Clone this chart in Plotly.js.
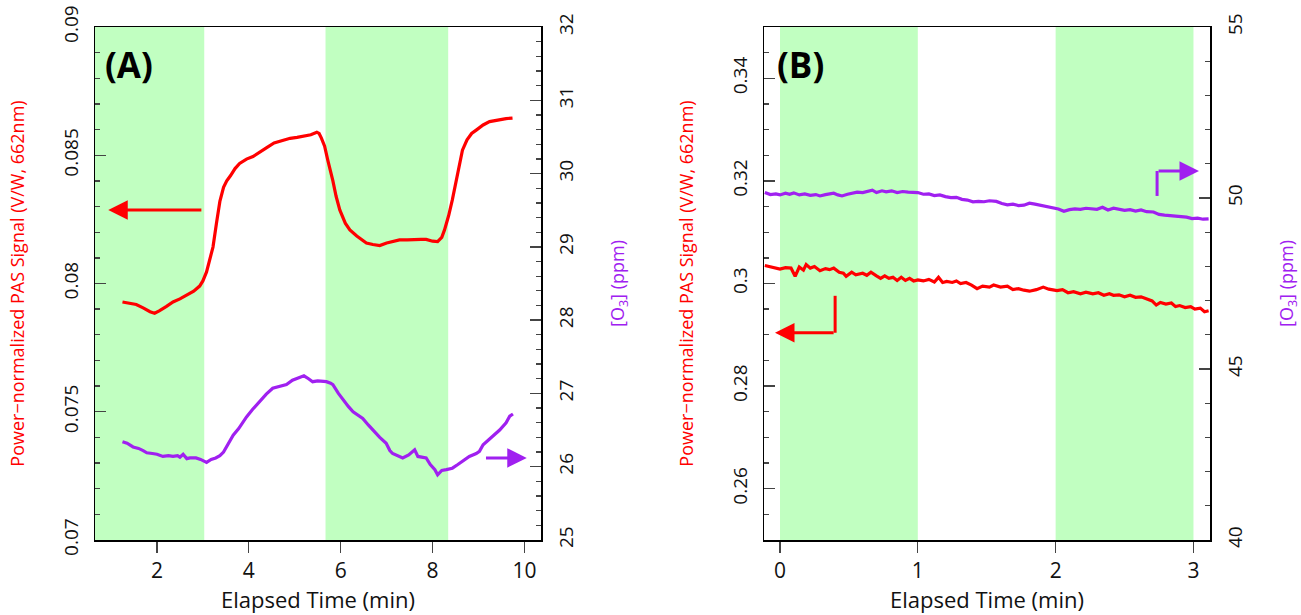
<!DOCTYPE html>
<html>
<head>
<meta charset="utf-8">
<script src="https://cdn.plot.ly/plotly-3.0.1.min.js"></script>
<style>html,body{margin:0;padding:0;background:#fff;}#chart{width:1301px;height:615px;}</style>
</head>
<body>
<div id="chart"></div>
<script>
// ---------- Panel A data ----------
const timeA_pas = [1.25,1.40,1.55,1.70,1.85,1.95,2.05,2.20,2.35,2.50,2.65,2.80,2.93,3.00,3.08,3.15,3.22,3.30,3.37,3.45,3.52,3.60,3.70,3.80,3.95,4.09,4.25,4.39,4.55,4.74,4.90,5.05,5.20,5.35,5.48,5.53,5.58,5.65,5.72,5.78,5.83,5.90,5.98,6.10,6.20,6.35,6.56,6.70,6.85,7.00,7.15,7.28,7.45,7.60,7.75,7.86,8.00,8.11,8.20,8.26,8.35,8.43,8.52,8.60,8.65,8.75,8.85,8.95,9.10,9.24,9.35,9.46,9.60,9.74];
const pasA = [0.07928,0.07922,0.07918,0.07905,0.07890,0.07884,0.07893,0.07910,0.07928,0.07940,0.07955,0.07970,0.07990,0.08010,0.08045,0.08090,0.08142,0.08240,0.08320,0.08375,0.08400,0.08420,0.08448,0.08468,0.08485,0.08495,0.08515,0.08530,0.08548,0.08558,0.08566,0.08570,0.08575,0.08580,0.08590,0.08585,0.08567,0.08535,0.08480,0.08440,0.08400,0.08340,0.08287,0.08235,0.08209,0.08185,0.08158,0.08152,0.08148,0.08158,0.08165,0.08170,0.08170,0.08172,0.08172,0.08172,0.08165,0.08163,0.08180,0.08209,0.08265,0.08326,0.08410,0.08480,0.08520,0.08560,0.08585,0.08598,0.08618,0.08631,0.08635,0.08637,0.08643,0.08645];
const timeA_o3 = [1.25,1.35,1.48,1.60,1.70,1.78,1.90,2.00,2.13,2.25,2.35,2.45,2.50,2.57,2.65,2.72,2.85,2.95,3.08,3.18,3.28,3.37,3.45,3.55,3.66,3.78,3.88,3.95,4.08,4.24,4.38,4.52,4.65,4.82,4.95,5.08,5.20,5.30,5.39,5.50,5.60,5.69,5.78,5.83,5.95,6.05,6.17,6.27,6.38,6.48,6.60,6.70,6.85,6.99,7.07,7.13,7.22,7.35,7.48,7.61,7.68,7.78,7.86,7.95,8.05,8.11,8.20,8.30,8.43,8.55,8.68,8.80,8.95,9.02,9.10,9.17,9.30,9.46,9.60,9.68,9.75];
const o3A = [26.34,26.32,26.27,26.25,26.22,26.19,26.18,26.17,26.14,26.15,26.14,26.15,26.13,26.17,26.11,26.12,26.12,26.10,26.06,26.10,26.12,26.15,26.20,26.32,26.43,26.52,26.62,26.68,26.78,26.89,26.99,27.07,27.09,27.12,27.18,27.21,27.24,27.20,27.16,27.17,27.17,27.16,27.14,27.12,27.00,26.91,26.82,26.75,26.70,26.66,26.57,26.50,26.40,26.32,26.22,26.18,26.16,26.12,26.16,26.23,26.14,26.13,26.12,26.03,25.96,25.89,25.95,25.96,25.98,26.03,26.09,26.14,26.18,26.21,26.30,26.34,26.42,26.50,26.60,26.69,26.72];
const shadeA = [[0.652, 3.03], [5.67, 8.34]];

// ---------- Panel B data ----------
const timeB_pas = [-0.11,-0.07,-0.03,0.00,0.04,0.08,0.11,0.14,0.17,0.19,0.22,0.25,0.29,0.33,0.36,0.39,0.43,0.46,0.48,0.52,0.55,0.60,0.63,0.66,0.70,0.73,0.76,0.79,0.82,0.85,0.88,0.91,0.94,0.97,1.00,1.04,1.08,1.12,1.15,1.18,1.21,1.25,1.28,1.31,1.35,1.39,1.43,1.47,1.52,1.55,1.60,1.65,1.69,1.73,1.77,1.81,1.86,1.91,1.95,2.01,2.05,2.09,2.13,2.18,2.22,2.27,2.31,2.35,2.39,2.42,2.46,2.50,2.54,2.58,2.62,2.66,2.70,2.73,2.76,2.80,2.84,2.87,2.90,2.94,2.98,3.01,3.05,3.08,3.11];
const pasB = [0.3035,0.3032,0.3030,0.3028,0.3031,0.3030,0.3014,0.3032,0.3026,0.3037,0.3030,0.3033,0.3025,0.3029,0.3027,0.3030,0.3022,0.3020,0.3014,0.3022,0.3017,0.3020,0.3016,0.3022,0.3015,0.3010,0.3015,0.3010,0.3012,0.3006,0.3012,0.3006,0.3010,0.3005,0.3007,0.3005,0.3008,0.3003,0.3012,0.3002,0.3004,0.3002,0.3005,0.3000,0.3002,0.2997,0.2990,0.2995,0.2993,0.2997,0.2993,0.2995,0.2988,0.2990,0.2987,0.2985,0.2988,0.2993,0.2989,0.2986,0.2988,0.2982,0.2984,0.2980,0.2983,0.2980,0.2982,0.2977,0.2980,0.2977,0.2978,0.2974,0.2977,0.2973,0.2974,0.2970,0.2966,0.2958,0.2963,0.2960,0.2962,0.2955,0.2957,0.2953,0.2955,0.2950,0.2952,0.2945,0.2947];
const timeB_o3 = [-0.11,-0.07,-0.03,0.00,0.04,0.07,0.10,0.14,0.18,0.22,0.26,0.29,0.33,0.36,0.39,0.42,0.45,0.49,0.53,0.56,0.60,0.63,0.67,0.70,0.74,0.77,0.81,0.85,0.89,0.93,0.97,1.00,1.04,1.08,1.12,1.16,1.20,1.24,1.28,1.32,1.36,1.40,1.44,1.48,1.52,1.57,1.61,1.65,1.69,1.73,1.77,1.81,1.85,1.90,1.94,1.98,2.02,2.06,2.10,2.14,2.18,2.22,2.26,2.30,2.34,2.38,2.42,2.46,2.50,2.54,2.58,2.62,2.66,2.71,2.75,2.79,2.83,2.87,2.91,2.95,2.99,3.03,3.07,3.11];
const o3B = [50.16,50.10,50.12,50.09,50.14,50.11,50.15,50.09,50.12,50.08,50.10,50.06,50.10,50.12,50.14,50.09,50.06,50.11,50.14,50.17,50.16,50.19,50.23,50.16,50.21,50.18,50.21,50.16,50.19,50.17,50.17,50.16,50.11,50.12,50.07,50.09,50.04,50.01,50.02,49.96,49.94,49.89,49.90,49.89,49.92,49.90,49.84,49.80,49.82,49.78,49.79,49.85,49.82,49.78,49.75,49.73,49.68,49.61,49.66,49.68,49.67,49.70,49.68,49.67,49.73,49.65,49.70,49.68,49.64,49.66,49.62,49.65,49.60,49.59,49.52,49.50,49.49,49.48,49.45,49.44,49.40,49.41,49.38,49.39];
const shadeB = [[0.0, 1.0], [2.0, 3.0]];

// ---------- style ----------
const RED = '#FF0000', PURPLE = '#A020F0', GREEN = '#C1FFC1';
const FONT = 'Open Sans, Noto Sans, sans-serif';
const W = 1301, H = 615;
const xdomA = [95 / W, 541 / W], xdomB = [764 / W, 1210 / W];
const ydom = [(H - 540) / H, (H - 27) / H];

const traces = [
  {x: timeA_pas, y: pasA, xaxis: 'x', yaxis: 'y', mode: 'lines', line: {color: RED, width: 3.2}, name: 'PAS A'},
  {x: timeA_o3, y: o3A, xaxis: 'x', yaxis: 'y2', mode: 'lines', line: {color: PURPLE, width: 3.2}, name: 'O3 A'},
  {x: timeB_pas, y: pasB, xaxis: 'x2', yaxis: 'y3', mode: 'lines', line: {color: RED, width: 3.2}, name: 'PAS B'},
  {x: timeB_o3, y: o3B, xaxis: 'x2', yaxis: 'y4', mode: 'lines', line: {color: PURPLE, width: 3.2}, name: 'O3 B'}
];

function xax(domain, range, tickvals, anchor) {
  return {domain, range, anchor, tickvals, ticks: 'outside', ticklen: 11, tickwidth: 1.3, tickcolor: '#444',
    showline: true, mirror: true, linecolor: '#000', linewidth: 1.5, showgrid: false, zeroline: false,
    tickfont: {family: FONT, size: 21, color: '#111'},
    title: {text: 'Elapsed Time (min)', font: {family: FONT, size: 22, color: '#111'}, standoff: 10}};
}
const MINOR = {ticks: 'inside', ticklen: 5, tickwidth: 1.3, tickcolor: '#444', showgrid: false};
function yax(o) {
  const base = {domain: ydom, ticks: 'inside', ticklen: 11, tickwidth: 1.3, tickcolor: '#444',
    showline: true, linecolor: '#000', linewidth: 1.5, showgrid: false, zeroline: false, tickangle: -90,
    ticklabelstandoff: 8,
    tickfont: {family: FONT, size: 19, color: '#111'}};
  return Object.assign(base, o);
}
const ytitleL = {text: 'Power\u2212normalized PAS Signal (V/W, 662nm)', font: {family: FONT, size: 18, color: RED}, standoff: 28};
const ytitleR = {text: '[O<sub>3</sub>] (ppm)', font: {family: FONT, size: 18, color: PURPLE}, standoff: 33};

const shapes = [];
shadeA.forEach(s => shapes.push({type: 'rect', xref: 'x', yref: 'y domain', x0: s[0], x1: s[1], y0: 0, y1: 1, fillcolor: GREEN, line: {width: 0}, layer: 'below'}));
shadeB.forEach(s => shapes.push({type: 'rect', xref: 'x2', yref: 'y3 domain', x0: s[0], x1: s[1], y0: 0, y1: 1, fillcolor: GREEN, line: {width: 0}, layer: 'below'}));
// bent arrow stems (panel B)
shapes.push({type: 'line', xref: 'x2', yref: 'y3', x0: 0.40, x1: 0.40, y0: 0.2976, y1: 0.2904, line: {color: RED, width: 3}});
shapes.push({type: 'line', xref: 'x2', yref: 'y4', x0: 2.736, x1: 2.736, y0: 50.06, y1: 50.79, line: {color: PURPLE, width: 3}});

function arrow(xr, yr, x, y, ax, ay, color) {
  return {xref: xr, yref: yr, axref: xr, ayref: yr, x, y, ax, ay, text: '', showarrow: true,
    arrowhead: 2, arrowsize: 1.3, arrowwidth: 3, arrowcolor: color};
}
const annotations = [
  {xref: 'paper', yref: 'paper', x: 103 / W, y: (H - 64) / H, xanchor: 'left', yanchor: 'middle', text: '<b>(A)</b>', showarrow: false, font: {family: FONT, size: 35, color: '#000'}},
  {xref: 'paper', yref: 'paper', x: 775 / W, y: (H - 64) / H, xanchor: 'left', yanchor: 'middle', text: '<b>(B)</b>', showarrow: false, font: {family: FONT, size: 35, color: '#000'}},
  arrow('x', 'y', 0.94, 0.08287, 3.0, 0.08287, RED),
  arrow('x', 'y2', 10.05, 26.12, 9.13, 26.12, PURPLE),
  arrow('x2', 'y3', -0.036, 0.2904, 0.40, 0.2904, RED),
  arrow('x2', 'y4', 3.04, 50.79, 2.736, 50.79, PURPLE)
];

const layout = {
  width: W, height: H, margin: {l: 0, r: 0, t: 0, b: 0}, showlegend: false,
  paper_bgcolor: '#fff', plot_bgcolor: 'rgba(0,0,0,0)', font: {family: FONT},
  xaxis: xax(xdomA, [0.652, 10.36], [2, 4, 6, 8, 10], 'y'),
  xaxis2: xax(xdomB, [-0.116, 3.12], [0, 1, 2, 3], 'y3'),
  yaxis: yax({anchor: 'x', range: [0.07, 0.09], tick0: 0.07, dtick: 0.005, minor: Object.assign({dtick: 0.001, tick0: 0.07}, MINOR), title: ytitleL}),
  yaxis2: yax({anchor: 'x', overlaying: 'y', side: 'right', range: [25, 32], tick0: 25, dtick: 1, minor: Object.assign({dtick: 0.2, tick0: 25}, MINOR), title: ytitleR}),
  yaxis3: yax({anchor: 'x2', range: [0.25, 0.35], tick0: 0.26, dtick: 0.02, minor: Object.assign({dtick: 0.005, tick0: 0.25}, MINOR), title: ytitleL}),
  yaxis4: yax({anchor: 'x2', overlaying: 'y3', side: 'right', range: [40, 55], tick0: 40, dtick: 5, minor: Object.assign({dtick: 1, tick0: 40}, MINOR), title: ytitleR}),
  shapes, annotations
};
Plotly.newPlot('chart', traces, layout, {staticPlot: true, displayModeBar: false});
</script>
</body>
</html>
